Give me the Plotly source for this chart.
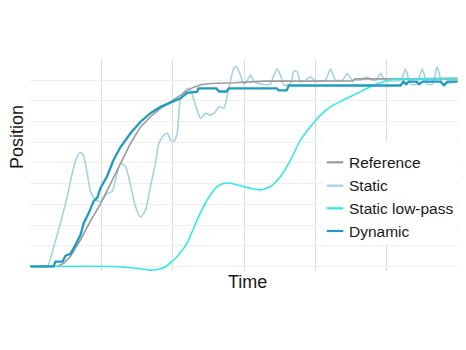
import plotly.graph_objects as go

# ---- data (time in arbitrary units 0..60, position in % 0..100) ----
ref_t = [0, 3.79, 4.64, 5.62, 7.03, 8.43, 9.84, 11.24, 12.65, 14.05, 15.46, 16.86, 18.27,
         19.67, 21.08, 22.48, 23.89, 25.29, 28.52, 33.0, 45.3, 45.6, 60]
ref_y = [0, 0, 1.5, 4.8, 12.9, 22.0, 30.2, 39.9, 49.8, 59.4, 67.4, 72.3, 76.4,
         79.6, 82.8, 85.9, 87.8, 88.4, 88.7, 89.5, 89.6, 90.6, 90.6]

static_t = [0, 2.35, 3.27, 4.45, 5.38, 5.86, 6.56, 7.03, 7.49, 7.97, 8.43, 9.13, 9.84, 10.78,
            11.48, 11.94, 12.65, 13.35, 14.05, 14.75, 15.46, 16.16, 16.86, 17.56, 18.03, 18.73,
            19.21, 19.67, 20.14, 20.61, 21.08, 22.02, 22.48, 23.18, 23.89, 24.59, 25.29, 25.99,
            26.46, 27.16, 27.86, 28.57, 28.94, 29.51, 29.97, 30.49, 30.91, 31.47, 32.32, 33.72,
            34.19, 34.66, 35.13, 35.59, 36.53, 37.0, 37.47, 37.94, 38.64, 39.34, 40.04, 41.45,
            42.15, 42.86, 43.84, 44.50, 45.10, 46.37, 47.21, 48.05, 48.62, 49.18, 49.74, 51.99,
            52.69, 53.39, 54.24, 55.04, 55.78, 56.48, 57.14, 57.89, 60]
static_y = [0, 0, 9.6, 24.1, 37.0, 45.0, 53.0, 55.0, 53.0, 45.0, 36.2, 32.2, 31.3, 35.4,
            36.2, 41.8, 49.9, 48.2, 39.4, 28.9, 23.8, 27.3, 38.6, 49.9, 59.5, 63.5,
            64.3, 61.1, 60.3, 64.3, 81.2, 86.0, 85.2, 78.0, 71.6, 74.0, 73.1, 74.7,
            77.1, 76.4, 86.0, 95.7, 96.4, 92.4, 88.1, 90.0, 92.4, 89.1, 88.1, 88.1,
            92.4, 95.3, 92.4, 87.6, 88.1, 94.4, 93.9, 89.1, 90.0, 91.5, 89.5, 90.0,
            95.3, 90.0, 90.0, 93.2, 90.5, 90.0, 91.5, 90.0, 90.0, 93.2, 90.0, 90.0,
            95.3, 88.1, 88.1, 95.3, 88.1, 88.1, 96.4, 88.6, 89.5]

lowpass_t = [0, 11.94, 13.35, 15.46, 16.86, 17.98, 18.97, 19.67, 20.61, 22.02, 23.42, 24.83,
             26.23, 27.12, 28.10, 29.93, 31.19, 32.32, 33.72, 35.13, 36.53, 37.94, 39.34,
             40.75, 42.15, 43.98, 45.90, 47.77, 49.60, 51.00, 54.80, 60]
lowpass_y = [0, 0, -0.4, -1.1, -1.8, -1.35, -0.15, 1.8, 4.8, 11.4, 22.5, 32.2,
             38.6, 40.1, 40.2, 38.6, 37.5, 37.0, 38.6, 43.4, 51.4, 61.1, 67.5,
             73.1, 77.1, 80.4, 83.6, 86.8, 89.2, 90.4, 90.7, 91.0]

dyn_t = [0, 3.23, 3.51, 4.50, 4.92, 5.62, 6.32, 7.03, 7.49, 8.19, 8.89, 9.37, 9.84, 10.78,
         11.66, 12.65, 14.05, 15.46, 16.86, 18.27, 19.67, 21.08, 22.02, 23.42, 23.61,
         26.1, 26.5, 27.5, 27.9, 34.6, 34.9, 36.0, 36.3, 52.0, 52.4, 52.8, 53.1, 54.2,
         54.6, 55.1, 57.6, 58.1, 58.6, 60]
dyn_y = [0, 0, 2.3, 2.3, 5.2, 6.1, 10.5, 15.3, 21.0, 25.8, 31.7, 33.1, 37.9, 43.7,
         51.4, 57.7, 64.3, 69.9, 74.0, 77.1, 79.1, 81.2, 83.9, 84.4, 86.0,
         86.0, 84.5, 84.5, 86.0, 86.0, 85.0, 85.0, 87.4, 87.4, 89.3, 88.0, 89.3, 89.3,
         88.0, 89.3, 89.3, 87.5, 89.3, 89.3]

series_names = ["Reference", "Static", "Static low-pass", "Dynamic"]
series_colors = ["#9b9b9b", "#a3d2e3", "#33e8e8", "#1e9cbf"]
series_widths = [1.6, 1.6, 1.6, 2.3]

FONT = "Liberation Sans, Arial, Helvetica, sans-serif"

fig = go.Figure()
data = [(static_t, static_y, 1, "spline"),
        (ref_t, ref_y, 0, "linear"),
        (lowpass_t, lowpass_y, 2, "spline"),
        (dyn_t, dyn_y, 3, "linear")]
for t, y, i, shp in data:
    fig.add_trace(go.Scatter(x=t, y=y, mode="lines", name=series_names[i],
                             line=dict(color=series_colors[i], width=series_widths[i],
                                       shape=shp, smoothing=0.6),
                             showlegend=False))

# plot area geometry (pixels) for custom legend
L, T, W, H = 30, 59, 428, 212
def px(x):
    return (x - L) / W
def py(y):
    return 1 - (y - T) / H

shapes = [dict(type="rect", xref="paper", yref="paper", x0=px(322), x1=px(455.5),
               y0=py(245), y1=py(142), fillcolor="white", line=dict(width=0), layer="above")]
annotations = []
rows = [162.3, 185.7, 208.3, 231.0]
for i, name in enumerate(series_names):
    shapes.append(dict(type="line", xref="paper", yref="paper", x0=px(326.7), x1=px(343.3),
                       y0=py(rows[i]), y1=py(rows[i]),
                       line=dict(color=series_colors[i], width=2.2), layer="above"))
    annotations.append(dict(text=name, xref="paper", yref="paper", x=px(347), y=py(rows[i]),
                            xanchor="left", yanchor="middle", showarrow=False,
                            font=dict(size=15.5, color="#1a1a1a", family=FONT)))

annotations.append(dict(text="Time", xref="paper", yref="paper", x=px(247), y=py(282),
                        xanchor="center", yanchor="middle", showarrow=False,
                        font=dict(size=18, color="#1a1a1a", family=FONT)))
annotations.append(dict(text="Position", xref="paper", yref="paper", x=px(16.5), y=py(137.5),
                        xanchor="center", yanchor="middle", showarrow=False, textangle=-90,
                        font=dict(size=18, color="#1a1a1a", family=FONT)))

fig.update_layout(
    width=466, height=350,
    margin=dict(l=L, r=466 - L - W, t=T, b=350 - T - H),
    paper_bgcolor="white", plot_bgcolor="white",
    font=dict(family=FONT),
    xaxis=dict(range=[-0.07, 60.07], tickmode="linear", tick0=0, dtick=10,
               showgrid=True, gridcolor="#dddddd", gridwidth=1,
               showticklabels=False, ticks="", zeroline=False, showline=False),
    yaxis=dict(range=[-2.2, 100.2], tickmode="linear", tick0=0, dtick=10,
               showgrid=True, gridcolor="#efefef", gridwidth=1,
               showticklabels=False, ticks="", zeroline=False, showline=False),
    shapes=shapes, annotations=annotations,
)

fig.write_html("out.html")
